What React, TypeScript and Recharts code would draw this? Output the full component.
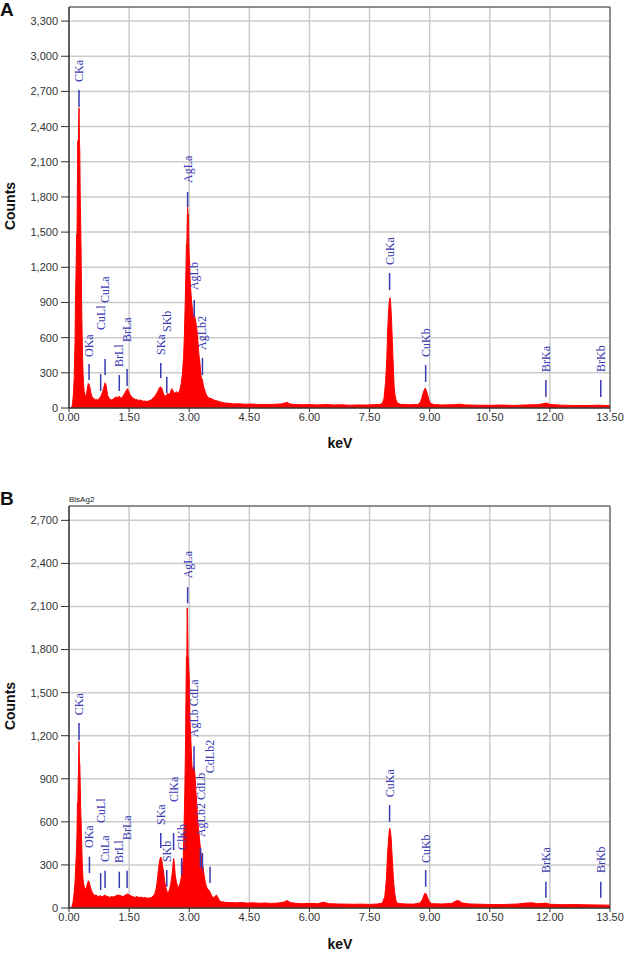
import React from 'react';
import {
  ComposedChart, Area, Scatter, XAxis, YAxis, CartesianGrid, ReferenceLine, ReferenceArea,
} from 'recharts';

// ---------- data ----------
const X_TICKS = [0, 1.5, 3, 4.5, 6, 7.5, 9, 10.5, 12, 13.5];
const Y_TICKS_A = [0, 300, 600, 900, 1200, 1500, 1800, 2100, 2400, 2700, 3000, 3300];
const Y_TICKS_B = [0, 300, 600, 900, 1200, 1500, 1800, 2100, 2400, 2700];
const Y_MAX_A = 3420;
const Y_MAX_B = 2800;

// [keV, counts]
const spectrumA: [number, number][] = [
  [0.00, 0], [0.04, 0], [0.07, 5], [0.09, 40], [0.11, 120], [0.13, 260], [0.15, 560], [0.16, 870],
  [0.18, 1250], [0.19, 1480], [0.20, 1460], [0.21, 1900], [0.22, 2280], [0.23, 2150], [0.24, 2420],
  [0.25, 2560], [0.26, 2300], [0.27, 2170], [0.28, 1800], [0.29, 1600], [0.30, 1380], [0.31, 1050],
  [0.32, 780], [0.33, 580], [0.34, 420], [0.35, 300], [0.36, 210], [0.37, 175], [0.38, 140],
  [0.40, 110], [0.42, 95], [0.44, 130], [0.46, 170], [0.48, 210], [0.50, 200], [0.52, 180],
  [0.54, 140], [0.56, 110], [0.58, 95], [0.60, 85], [0.63, 78], [0.66, 70], [0.69, 75], [0.72, 66],
  [0.75, 80], [0.78, 92], [0.81, 110], [0.84, 140], [0.87, 175], [0.90, 215], [0.92, 200],
  [0.94, 160], [0.96, 115], [0.98, 95], [1.01, 80], [1.04, 72], [1.07, 68], [1.10, 75], [1.13, 85],
  [1.16, 90], [1.19, 95], [1.22, 88], [1.25, 100], [1.28, 92], [1.31, 85], [1.34, 95], [1.37, 115],
  [1.40, 130], [1.43, 150], [1.46, 165], [1.49, 140], [1.52, 115], [1.55, 100], [1.58, 90],
  [1.62, 80], [1.66, 72], [1.70, 70], [1.74, 65], [1.78, 68], [1.82, 62], [1.86, 58], [1.90, 60],
  [1.94, 55], [1.98, 60], [2.02, 64], [2.06, 72], [2.10, 85], [2.14, 100], [2.18, 120], [2.22, 145],
  [2.26, 175], [2.29, 180], [2.32, 165], [2.35, 130], [2.38, 105], [2.41, 100], [2.44, 115],
  [2.47, 125], [2.50, 110], [2.53, 130], [2.56, 165], [2.59, 150], [2.62, 125], [2.65, 130],
  [2.68, 140], [2.71, 125], [2.74, 135], [2.77, 160], [2.80, 210], [2.83, 290], [2.86, 440],
  [2.88, 620], [2.90, 900], [2.92, 1200], [2.93, 1400], [2.94, 1380], [2.95, 1600], [2.96, 1710],
  [2.97, 1620], [2.98, 1650], [2.99, 1400], [3.00, 1280], [3.01, 1240], [3.02, 1100], [3.04, 1000],
  [3.06, 900], [3.08, 850], [3.10, 800], [3.12, 760], [3.14, 780], [3.16, 740], [3.18, 700],
  [3.20, 640], [3.22, 560], [3.24, 460], [3.26, 400], [3.28, 330], [3.30, 260], [3.32, 250],
  [3.34, 220], [3.36, 180], [3.38, 160], [3.40, 140], [3.43, 110], [3.46, 95], [3.50, 85],
  [3.55, 80], [3.60, 70], [3.65, 65], [3.70, 60], [3.75, 55], [3.80, 50], [3.90, 42], [4.00, 40],
  [4.10, 35], [4.25, 36], [4.40, 32], [4.55, 34], [4.70, 30], [4.85, 31], [5.00, 30], [5.15, 32],
  [5.30, 35], [5.40, 44], [5.45, 48], [5.50, 36], [5.60, 30], [5.80, 28], [6.00, 29], [6.20, 26],
  [6.40, 30], [6.60, 26], [6.80, 27], [7.00, 24], [7.20, 26], [7.40, 25], [7.60, 28], [7.75, 30],
  [7.82, 40], [7.86, 80], [7.90, 220], [7.93, 420], [7.95, 640], [7.97, 800], [7.99, 900],
  [8.01, 940], [8.03, 880], [8.05, 740], [8.07, 560], [8.09, 380], [8.11, 200], [8.13, 120],
  [8.16, 70], [8.20, 40], [8.30, 30], [8.50, 28], [8.70, 30], [8.76, 45], [8.80, 80], [8.83, 120],
  [8.86, 150], [8.89, 170], [8.92, 145], [8.95, 110], [8.98, 70], [9.02, 40], [9.10, 30],
  [9.30, 26], [9.60, 28], [9.75, 33], [9.90, 26], [10.20, 24], [10.50, 23], [10.80, 25],
  [11.10, 22], [11.40, 26], [11.70, 28], [11.85, 38], [11.92, 42], [12.00, 30], [12.30, 24],
  [12.60, 22], [12.90, 21], [13.20, 24], [13.35, 22], [13.50, 20],
];

const spectrumB: [number, number][] = [
  [0.00, 0], [0.04, 0], [0.07, 5], [0.10, 40], [0.13, 110], [0.15, 180], [0.17, 300], [0.19, 420],
  [0.20, 520], [0.21, 730], [0.22, 700], [0.23, 880], [0.24, 1020], [0.25, 1160], [0.26, 1030],
  [0.27, 1000], [0.28, 860], [0.29, 700], [0.30, 620], [0.31, 520], [0.32, 420], [0.33, 320],
  [0.34, 250], [0.35, 200], [0.37, 160], [0.39, 140], [0.41, 130], [0.43, 140], [0.45, 160],
  [0.47, 180], [0.49, 190], [0.51, 175], [0.53, 150], [0.55, 130], [0.58, 110], [0.61, 95],
  [0.64, 88], [0.67, 90], [0.70, 84], [0.74, 80], [0.78, 86], [0.82, 78], [0.86, 84], [0.90, 90],
  [0.94, 82], [0.98, 78], [1.02, 74], [1.06, 80], [1.10, 76], [1.15, 82], [1.20, 88], [1.25, 90],
  [1.30, 84], [1.35, 80], [1.40, 88], [1.45, 98], [1.50, 92], [1.55, 84], [1.60, 78], [1.65, 74],
  [1.70, 80], [1.75, 72], [1.80, 76], [1.85, 70], [1.90, 74], [1.95, 68], [2.00, 70], [2.05, 72],
  [2.10, 82], [2.14, 100], [2.18, 140], [2.21, 210], [2.24, 290], [2.27, 340], [2.29, 355],
  [2.31, 340], [2.33, 300], [2.36, 250], [2.39, 180], [2.42, 140], [2.45, 110], [2.48, 108],
  [2.51, 130], [2.54, 170], [2.57, 230], [2.59, 280], [2.61, 345], [2.63, 310], [2.65, 230],
  [2.68, 180], [2.71, 150], [2.74, 145], [2.77, 170], [2.80, 210], [2.83, 280], [2.85, 340],
  [2.87, 560], [2.89, 800], [2.91, 1200], [2.92, 1500], [2.93, 1750], [2.94, 1700], [2.95, 2090],
  [2.96, 1980], [2.97, 1760], [2.98, 1720], [2.99, 1660], [3.00, 1600], [3.01, 1450], [3.02, 1300],
  [3.03, 1250], [3.05, 1100], [3.07, 980], [3.09, 960], [3.11, 990], [3.13, 970], [3.15, 900],
  [3.17, 800], [3.19, 720], [3.21, 620], [3.23, 560], [3.25, 500], [3.27, 440], [3.29, 400],
  [3.31, 330], [3.33, 300], [3.35, 280], [3.37, 230], [3.40, 180], [3.43, 150], [3.46, 130],
  [3.49, 125], [3.52, 110], [3.56, 85], [3.60, 70], [3.64, 80], [3.68, 90], [3.72, 70], [3.76, 50],
  [3.80, 44], [3.90, 40], [4.00, 38], [4.15, 36], [4.30, 38], [4.45, 34], [4.60, 36], [4.75, 33],
  [4.90, 35], [5.05, 32], [5.20, 34], [5.35, 40], [5.45, 52], [5.52, 38], [5.65, 33], [5.80, 30],
  [6.00, 32], [6.20, 30], [6.35, 40], [6.50, 30], [6.70, 28], [6.90, 27], [7.10, 26], [7.30, 27],
  [7.50, 25], [7.70, 28], [7.82, 35], [7.88, 80], [7.92, 200], [7.95, 380], [7.98, 500],
  [8.00, 555], [8.02, 540], [8.04, 480], [8.06, 380], [8.08, 280], [8.10, 180], [8.13, 100],
  [8.16, 50], [8.20, 32], [8.40, 28], [8.60, 27], [8.76, 35], [8.82, 60], [8.86, 90], [8.89, 105],
  [8.92, 95], [8.95, 70], [8.99, 45], [9.05, 30], [9.30, 28], [9.55, 32], [9.65, 48], [9.72, 52],
  [9.80, 36], [10.00, 28], [10.30, 26], [10.60, 24], [10.90, 25], [11.20, 28], [11.40, 34],
  [11.55, 36], [11.70, 30], [11.90, 34], [12.00, 26], [12.30, 23], [12.60, 24], [12.90, 22],
  [13.20, 21], [13.50, 20],
];

// line marker ticks: [keV, from counts, to counts]
const markTicksA: [number, number, number][] = [
  [0.25, 2567, 2712], [0.50, 239, 375], [0.79, 145, 290], [0.90, 281, 418], [1.255, 145, 281],
  [1.45, 188, 333], [2.29, 256, 384], [2.44, 128, 264], [2.96, 1714, 1842], [3.125, 776, 921],
  [3.33, 281, 426], [8.00, 1006, 1151], [8.90, 222, 367], [11.90, 94, 239], [13.27, 94, 239],
];
// line labels: [keV, counts at label start, text]
const markLabelsA: [number, number, string][] = [
  [0.25, 2780, 'CKa'], [0.50, 435, 'OKa'], [0.79, 665, 'CuLl'], [0.90, 895, 'CuLa'],
  [1.255, 350, 'BrLl'], [1.45, 563, 'BrLa'], [2.29, 452, 'SKa'], [2.44, 648, 'SKb'],
  [2.96, 1919, 'AgLa'], [3.125, 1006, 'AgLb'], [3.33, 495, 'AgLb2'], [8.00, 1219, 'CuKa'],
  [8.90, 435, 'CuKb'], [11.90, 307, 'BrKa'], [13.27, 307, 'BrKb'],
];

const markTicksB: [number, number, number][] = [
  [0.25, 1169, 1289], [0.51, 243, 357], [0.79, 125, 243], [0.90, 139, 259], [1.255, 139, 253],
  [1.45, 139, 260], [2.29, 418, 522], [2.44, 148, 264], [2.61, 404, 522], [2.81, 230, 348],
  [2.96, 2122, 2235], [3.12, 960, 1127], [3.28, 285, 418], [3.33, 264, 383], [3.52, 174, 287],
  [8.00, 600, 717], [8.90, 148, 264], [11.90, 71, 183], [13.27, 71, 183],
];
const markLabelsB: [number, number, string][] = [
  [0.25, 1343, 'CKa'], [0.51, 418, 'OKa'], [0.79, 592, 'CuLl'], [0.90, 320, 'CuLa'],
  [1.255, 313, 'BrLl'], [1.45, 473, 'BrLa'], [2.29, 578, 'SKa'], [2.44, 320, 'SKb'],
  [2.61, 738, 'ClKa'], [2.81, 404, 'ClKb'], [2.96, 2296, 'AgLa'], [3.12, 1190, 'AgLb CdLa'],
  [3.30, 494, 'AgLb2 CdLb'], [3.52, 939, 'CdLb2'], [8.00, 772, 'CuKa'], [8.90, 313, 'CuKb'],
  [11.90, 243, 'BrKa'], [13.27, 243, 'BrKb'],
];

// ---------- styling ----------
const RED = '#ff0000';
const BLUE = '#3a3ab2';
const SANS = '"Liberation Sans", Arial, sans-serif';
const SERIF = '"Liberation Serif", "Times New Roman", serif';

const LabelShape = (p: any) => {
  const { cx, cy, payload } = p;
  if (cx == null || cy == null) return null;
  return (
    <text
      x={cx}
      y={cy}
      transform={`rotate(-90 ${cx} ${cy})`}
      dy="0.33em"
      textAnchor="start"
      fill={BLUE}
      fontSize={12}
      fontFamily={SERIF}
    >
      {payload.name}
    </text>
  );
};

type ChartProps = {
  spectrum: [number, number][];
  ticks: [number, number, number][];
  labels: [number, number, string][];
  yMax: number;
  yTicks: number[];
  top: number;
  height: number;
  marginTop: number;
};

function SpectrumChart({ spectrum, ticks, labels, yMax, yTicks, top, height, marginTop }: ChartProps) {
  const data = spectrum.map(([kev, counts]) => ({ kev, counts }));
  const labelData = labels.map(([kev, ly, name]) => ({ kev, ly, name }));
  return (
    <div style={{ position: 'absolute', left: 0, top }}>
      <ComposedChart
        width={625}
        height={height}
        data={data}
        margin={{ top: marginTop, right: 15, bottom: 0, left: 9 }}
      >
        <CartesianGrid stroke="#cbcbcb" strokeWidth={1.5} />
        <XAxis
          dataKey="kev"
          type="number"
          domain={[0, 13.5]}
          ticks={X_TICKS}
          interval={0}
          allowDataOverflow
          tickFormatter={(v: number) => v.toFixed(2)}
          height={22}
          tickSize={4}
          tickMargin={1}
          stroke="#333"
          tick={{ fontSize: 11, fill: '#333', fontFamily: SANS }}
        />
        <YAxis
          type="number"
          domain={[0, yMax]}
          ticks={yTicks}
          interval={0}
          allowDataOverflow
          width={60}
          tickSize={8}
          tickMargin={3}
          stroke="#333"
          tickFormatter={(v: number) => v.toLocaleString('en-US')}
          tick={{ fontSize: 11, fill: '#333', fontFamily: SANS }}
        />
        <Area
          type="linear"
          dataKey="counts"
          stroke={RED}
          strokeWidth={1}
          fill={RED}
          fillOpacity={1}
          dot={false}
          activeDot={false}
          isAnimationActive={false}
        />
        {ticks.map(([k, y0, y1], i) => (
          <ReferenceLine
            key={i}
            segment={[{ x: k, y: y0 }, { x: k, y: y1 }]}
            stroke={BLUE}
            strokeWidth={1.5}
            ifOverflow="visible"
          />
        ))}
        <Scatter data={labelData} dataKey="ly" shape={LabelShape} isAnimationActive={false} />
        <ReferenceArea x1={0} x2={13.5} y1={0} y2={yMax} fill="none" fillOpacity={0} stroke="#444" strokeWidth={1} ifOverflow="visible" />
      </ComposedChart>
    </div>
  );
}

const boldText: React.CSSProperties = {
  position: 'absolute',
  fontFamily: SANS,
  fontWeight: 'bold',
  whiteSpace: 'nowrap',
  lineHeight: 1,
  color: '#111',
};

export default function App() {
  return (
    <div style={{ position: 'absolute', left: 0, top: 0, width: 625, height: 953, background: '#fff', overflow: 'hidden' }}>
      <SpectrumChart
        spectrum={spectrumA}
        ticks={markTicksA}
        labels={markLabelsA}
        yMax={Y_MAX_A}
        yTicks={Y_TICKS_A}
        top={0}
        height={430}
        marginTop={7}
      />
      <SpectrumChart
        spectrum={spectrumB}
        ticks={markTicksB}
        labels={markLabelsB}
        yMax={Y_MAX_B}
        yTicks={Y_TICKS_B}
        top={480}
        height={450}
        marginTop={26}
      />
      <div style={{ ...boldText, left: 0, top: 0, fontSize: 19 }}>A</div>
      <div style={{ ...boldText, left: 0, top: 489, fontSize: 19 }}>B</div>
      <div style={{ ...boldText, left: 10, top: 206, fontSize: 14, transform: 'translate(-50%, -50%) rotate(-90deg)' }}>Counts</div>
      <div style={{ ...boldText, left: 10, top: 706, fontSize: 14, transform: 'translate(-50%, -50%) rotate(-90deg)' }}>Counts</div>
      <div style={{ ...boldText, left: 340, top: 443, fontSize: 14, transform: 'translate(-50%, -50%)' }}>keV</div>
      <div style={{ ...boldText, left: 340, top: 944, fontSize: 14, transform: 'translate(-50%, -50%)' }}>keV</div>
      <div style={{ position: 'absolute', left: 69, top: 496, fontSize: 8, fontFamily: SANS, color: '#222', lineHeight: 1 }}>BlsAg2</div>
    </div>
  );
}
